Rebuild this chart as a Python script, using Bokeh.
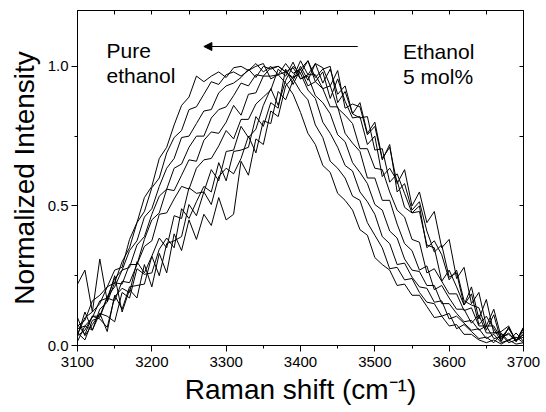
from bokeh.plotting import figure
from bokeh.models import (Range1d, LinearAxis, FixedTicker, PrintfTickFormatter,
                          CustomJSTickFormatter, Arrow, NormalHead)
from bokeh.core.properties import value
from bokeh.embed import file_html
from bokeh.resources import INLINE

# Raman shift grid (cm-1)
shift = [3100, 3110, 3120, 3130, 3140, 3150, 3160, 3170, 3180, 3190,
         3200, 3210, 3220, 3230, 3240, 3250, 3260, 3270, 3280, 3290,
         3300, 3310, 3320, 3330, 3340, 3350, 3360, 3370, 3380, 3390,
         3400, 3410, 3420, 3430, 3440, 3450, 3460, 3470, 3480, 3490,
         3500, 3510, 3520, 3530, 3540, 3550, 3560, 3570, 3580, 3590,
         3600, 3610, 3620, 3630, 3640, 3650, 3660, 3670, 3680, 3690, 3700]

# normalized spectra, pure ethanol -> ethanol 5 mol%
pure_ethanol = [0.07,0.09,0.16,0.18,0.21,0.27,0.28,0.38,0.44,0.53,0.57,0.67,0.71,0.79,0.86,0.89,0.965,0.945,0.965,0.98,
                0.96,0.995,1.0,0.985,1.0,1.01,0.955,0.97,0.94,0.90,0.835,0.76,0.72,0.645,0.62,0.545,0.52,0.485,0.415,0.395,
                0.315,0.29,0.27,0.215,0.22,0.18,0.18,0.14,0.10,0.105,0.07,0.075,0.04,0.04,0.02,0.01,0.02,0.005,0.02,0.005,0.01]
mix_2 = [0.04,0.10,0.12,0.15,0.21,0.225,0.30,0.35,0.44,0.48,0.565,0.60,0.69,0.745,0.77,0.845,0.855,0.90,0.945,0.935,
         0.97,0.98,0.965,0.985,1.01,0.98,1.0,0.97,0.98,0.955,0.91,0.88,0.79,0.745,0.66,0.635,0.60,0.535,0.52,0.44,
         0.395,0.35,0.275,0.28,0.235,0.24,0.19,0.155,0.15,0.105,0.115,0.06,0.075,0.05,0.025,0.03,0.01,0.04,0.01,0.02,0.03]
mix_3 = [0.06,0.07,0.10,0.16,0.17,0.24,0.27,0.34,0.375,0.46,0.49,0.57,0.635,0.67,0.745,0.75,0.795,0.84,0.845,0.905,
         0.93,0.94,0.96,0.99,0.96,1.0,0.99,1.0,0.98,0.96,0.975,0.915,0.885,0.80,0.76,0.71,0.645,0.625,0.55,0.515,
         0.47,0.39,0.365,0.29,0.295,0.245,0.21,0.205,0.155,0.16,0.095,0.105,0.08,0.055,0.06,0.025,0.04,0.01,0.02,0.03,0.01]
mix_4 = [0.035,0.055,0.105,0.105,0.175,0.21,0.27,0.28,0.36,0.39,0.47,0.535,0.56,0.635,0.65,0.71,0.75,0.75,0.815,0.845,
         0.855,0.895,0.94,0.93,0.97,0.965,0.995,1.0,0.98,0.995,0.955,0.965,0.895,0.87,0.83,0.755,0.73,0.655,0.62,0.58,
         0.505,0.485,0.41,0.385,0.31,0.27,0.265,0.215,0.215,0.15,0.15,0.115,0.085,0.09,0.055,0.07,0.025,0.03,0.04,0.02,0.04]
mix_5 = [0.015,0.07,0.055,0.13,0.155,0.225,0.22,0.29,0.29,0.38,0.45,0.475,0.56,0.555,0.61,0.665,0.66,0.735,0.765,0.76,
         0.80,0.86,0.825,0.90,0.905,0.965,0.965,0.97,1.01,0.975,0.99,0.93,0.945,0.92,0.855,0.855,0.76,0.725,0.695,0.60,
         0.60,0.52,0.52,0.435,0.365,0.34,0.27,0.285,0.20,0.215,0.17,0.13,0.13,0.08,0.11,0.045,0.045,0.045,0.015,0.045,0.015]
mix_6 = [0.045,0.02,0.09,0.10,0.17,0.16,0.23,0.225,0.29,0.355,0.375,0.47,0.475,0.525,0.57,0.56,0.635,0.665,0.67,0.715,
         0.77,0.74,0.81,0.81,0.865,0.89,0.915,0.99,0.965,1.015,0.955,0.97,0.97,0.92,0.93,0.85,0.825,0.795,0.705,0.705,
         0.635,0.63,0.55,0.485,0.46,0.38,0.37,0.26,0.275,0.23,0.185,0.185,0.125,0.135,0.07,0.07,0.07,0.025,0.045,0.015,0.06]
mix_7 = [0.075,0.04,0.105,0.095,0.065,0.175,0.205,0.19,0.30,0.26,0.32,0.385,0.35,0.465,0.455,0.565,0.545,0.55,0.63,0.59,
         0.695,0.70,0.785,0.745,0.775,0.86,0.92,0.86,0.95,1.0,0.975,1.02,0.945,0.98,0.885,0.955,0.875,0.815,0.82,0.72,
         0.75,0.605,0.635,0.59,0.495,0.475,0.48,0.36,0.35,0.23,0.27,0.21,0.145,0.185,0.075,0.105,0.06,0.015,0.065,0.015,0.065]
mix_8 = [0.035,0.12,0.055,0.115,0.105,0.085,0.19,0.17,0.275,0.255,0.26,0.345,0.385,0.35,0.49,0.455,0.515,0.57,0.55,0.655,
         0.59,0.695,0.70,0.71,0.82,0.785,0.87,0.85,0.99,0.935,0.99,1.02,0.96,0.99,1.0,0.87,0.91,0.83,0.815,0.82,
         0.70,0.705,0.585,0.615,0.545,0.475,0.50,0.35,0.375,0.325,0.235,0.27,0.16,0.145,0.135,0.055,0.11,0.015,0.065,0.015,0.04]
mix_9 = [0.10,0.035,0.075,0.115,0.05,0.18,0.13,0.21,0.215,0.22,0.32,0.25,0.365,0.375,0.39,0.505,0.465,0.55,0.505,0.605,
         0.635,0.615,0.67,0.75,0.69,0.805,0.795,0.91,0.88,0.95,1.0,0.95,1.01,0.995,0.93,0.985,0.85,0.865,0.855,0.755,
         0.785,0.665,0.72,0.55,0.58,0.485,0.515,0.41,0.335,0.36,0.245,0.26,0.145,0.21,0.095,0.165,0.045,0.05,0.07,0.015,0.065]
ethanol_5mol = [0.22,0.27,0.12,0.31,0.16,0.25,0.12,0.20,0.17,0.29,0.21,0.33,0.26,0.40,0.34,0.45,0.38,0.47,0.43,0.53,
                0.45,0.47,0.66,0.61,0.74,0.72,0.84,0.82,0.93,0.96,1.02,0.97,1.01,0.94,0.99,0.90,0.93,0.83,0.87,0.76,
                0.80,0.67,0.71,0.58,0.63,0.50,0.55,0.44,0.48,0.35,0.38,0.24,0.28,0.15,0.19,0.07,0.13,0.03,0.06,0.02,0.05]

spectra = [pure_ethanol, mix_2, mix_3, mix_4, mix_5, mix_6, mix_7, mix_8, mix_9, ethanol_5mol]

x_major = [3100, 3200, 3300, 3400, 3500, 3600, 3700]
x_minor = [3150, 3250, 3350, 3450, 3550, 3650]
x_top = [3100, 3150, 3200, 3250, 3300, 3350, 3400, 3450, 3500, 3550, 3600, 3650, 3700]
y_major = [0.0, 0.5, 1.0]
y_minor = [0.25, 0.75]
y_right = [0.25, 0.5, 0.75, 1.0]

label_left = ["Pure", "ethanol"]
label_left_x = [3139, 3139]
label_left_y = [1.057, 0.968]
label_right = ["Ethanol", "5 mol%"]
label_right_x = [3538, 3538]
label_right_y = [1.054, 0.964]
arrow_from = (3477, 1.071)
arrow_to = (3270, 1.071)

FONT = "Liberation Sans"

p = figure(width=546, height=412, output_backend="svg", toolbar_location=None,
           x_range=Range1d(3100, 3700), y_range=Range1d(0, 1.2),
           min_border_left=77, min_border_right=23, min_border_top=10, min_border_bottom=67,
           background_fill_color="white", border_fill_color="white")
p.outline_line_color = "black"
p.outline_line_width = 1
p.xgrid.visible = False
p.ygrid.visible = False

for s in spectra:
    p.line(shift, s, line_color="black", line_width=1)

xa = p.xaxis[0]
xa.ticker = FixedTicker(ticks=x_major, minor_ticks=x_minor)
xa.axis_label = "Raman shift (cm\u207b\u00b9)"
ya = p.yaxis[0]
ya.ticker = FixedTicker(ticks=y_major, minor_ticks=y_minor)
ya.formatter = PrintfTickFormatter(format="%.1f")
ya.axis_label = "Normalized Intensity"
for ax in (xa, ya):
    ax.axis_line_color = "black"
    ax.major_tick_line_color = "black"
    ax.minor_tick_line_color = "black"
    ax.major_tick_out = 6
    ax.major_tick_in = 0
    ax.minor_tick_out = 3
    ax.minor_tick_in = 0
    ax.major_label_text_font = FONT
    ax.major_label_text_font_size = "15px"
    ax.major_label_text_color = "black"
    ax.axis_label_text_font = FONT
    ax.axis_label_text_font_size = "28px"
    ax.axis_label_text_font_style = "normal"
    ax.axis_label_text_color = "black"
xa.major_label_standoff = 5
xa.axis_label_standoff = 4
ya.major_label_standoff = 3
ya.axis_label_standoff = 5

blank = CustomJSTickFormatter(code="return ''")
top = LinearAxis(ticker=FixedTicker(ticks=x_top, minor_ticks=[]), formatter=blank)
right = LinearAxis(ticker=FixedTicker(ticks=y_right, minor_ticks=[]), formatter=blank)
for ax in (top, right):
    ax.major_tick_in = 4
    ax.major_tick_out = 0
    ax.minor_tick_in = 0
    ax.minor_tick_out = 0
    ax.major_label_standoff = 0
    ax.major_label_text_font_size = "1px"
    ax.axis_line_color = "black"
    ax.major_tick_line_color = "black"
p.add_layout(top, "above")
p.add_layout(right, "right")

p.text(x=label_left_x, y=label_left_y, text=label_left, text_font=value(FONT),
       text_font_size="21px", text_color="black", text_baseline="alphabetic", text_align="left")
p.text(x=label_right_x, y=label_right_y, text=label_right, text_font=value(FONT),
       text_font_size="21px", text_color="black", text_baseline="alphabetic", text_align="left")

p.add_layout(Arrow(end=NormalHead(size=8, fill_color="black", line_color="black"),
                   x_start=arrow_from[0], y_start=arrow_from[1],
                   x_end=arrow_to[0], y_end=arrow_to[1],
                   line_color="black", line_width=1))

open("out.html", "w").write(file_html(p, INLINE))
